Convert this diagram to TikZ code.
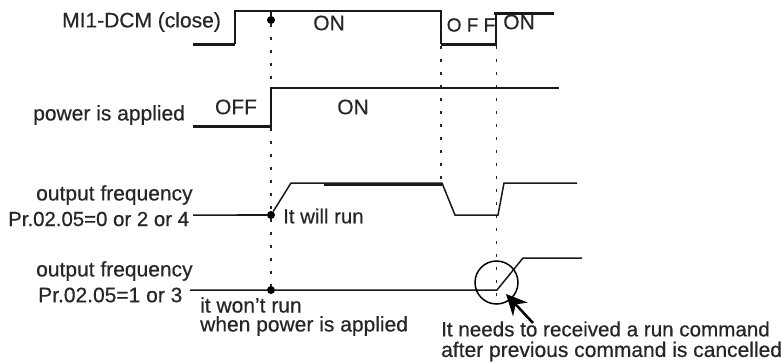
\documentclass[tikz,border=0pt]{standalone}
\usepackage{fontspec}
\setmainfont{Liberation Sans}[AutoFakeBold=0.5]
\usetikzlibrary{arrows.meta}
\tikzset{
 wave/.style={line width=1.5pt,black!90,line join=miter},
 thick wave/.style={line width=3pt,black!90},
 guide/.style={line width=1.6pt,dash pattern=on 3pt off 10pt,black!85},
 lab/.style={inner sep=0pt,font=\fontsize{21}{24}\selectfont\bfseries,text=black!85,align=center},
 lable/.style={lab,anchor=west,align=left},
 blob/.style={circle,fill=black,inner sep=0pt,minimum size=8pt},
}
\begin{document}
\begin{tikzpicture}[x=1pt,y=-1pt]
\useasboundingbox (0,0) rectangle (782,362);
% anchors
\node[blob] (d1) at (271,20) {};
\node[blob] (d3) at (271,215) {};
\node[blob] (d4) at (271,290) {};
\coordinate (g2t) at (441,46);
\coordinate (g2b) at (441,183);
\coordinate (g3t) at (496.5,46);
\coordinate (g3b) at (496.5,300);
\draw[guide] (d1) -- (d4);
\draw[guide] (g2t) -- (g2b);
\draw[guide] (g3t) -- (g3b);
% row 1
\draw[wave] (235,44) -- (235,11) -- (441,11) -- (441,44);
\draw[thick wave] (193,44) -- (235,44);
\draw[thick wave] (441,44) -- (497,44);
\draw[wave] (496,44) -- (496,13);
\draw[thick wave] (494,13) -- (554,13);
\draw[wave] (271,11) -- (d1);
% row 2
\draw[thick wave] (193,126) -- (271,126);
\draw[wave] (271,131) -- (271,88) -- (559,88);
% row 3
\draw[wave] (193,215) -- (d3) -- (291,183) -- (442,183) -- (455,215) -- (498,215) -- (504,183) -- (577,183);
\draw[line width=3pt,black!90] (324,184) -- (442,184);
\draw[line width=2.5pt,black!90] (237,215) -- (d3);
% row 4
\draw[wave] (190,290) -- (d4) -- (497,290) -- (523,258) -- (582,258);
\node[circle,draw,line width=1.5pt,minimum size=43pt,inner sep=0pt] (ring) at (496.5,282.5) {};
% arrow
\coordinate (arrtail) at (533,323);
\coordinate (arrtip) at (506,294);
\draw[line width=2.5pt,-{Stealth[length=21pt,width=20pt]}] (arrtail) -- (arrtip);
% labels
\node[lable] (t1) at (62,22) {MI1-DCM (close)};
\node[lab] (t2) at (329,23) {ON};
\node[lab,font=\fontsize{19}{22}\selectfont\bfseries] (t3) at (471,25) {O F F};
\node[lab] (t4) at (519,22) {ON};
\node[lable] (t5) at (33,115) {power is applied};
\node[lab] (t6) at (236,107) {OFF};
\node[lab] (t7) at (353,107) {ON};
\node[lable] (t8) at (36,195) {output frequency};
\node[lable,font=\fontsize{20.4}{24}\selectfont\bfseries] (t9) at (8,219) {Pr.02.05=0 or 2 or 4};
\node[lable,font=\fontsize{20.4}{24}\selectfont\bfseries] (t10) at (283,216) {It will run};
\node[lable] (t11) at (36,271) {output frequency};
\node[lable] (t12) at (38,295) {Pr.02.05=1 or 3};
\node[lable] (t13) at (200,305) {it won't run};
\node[lable] (t14) at (200,326) {when power  is applied};
\node[lable,font=\fontsize{20.6}{24}\selectfont\bfseries] (t15) at (441,329) {It needs to received a run command};
\node[lable] (t16) at (441,351.5) {after previous command is cancelled};
\end{tikzpicture}
\end{document}
